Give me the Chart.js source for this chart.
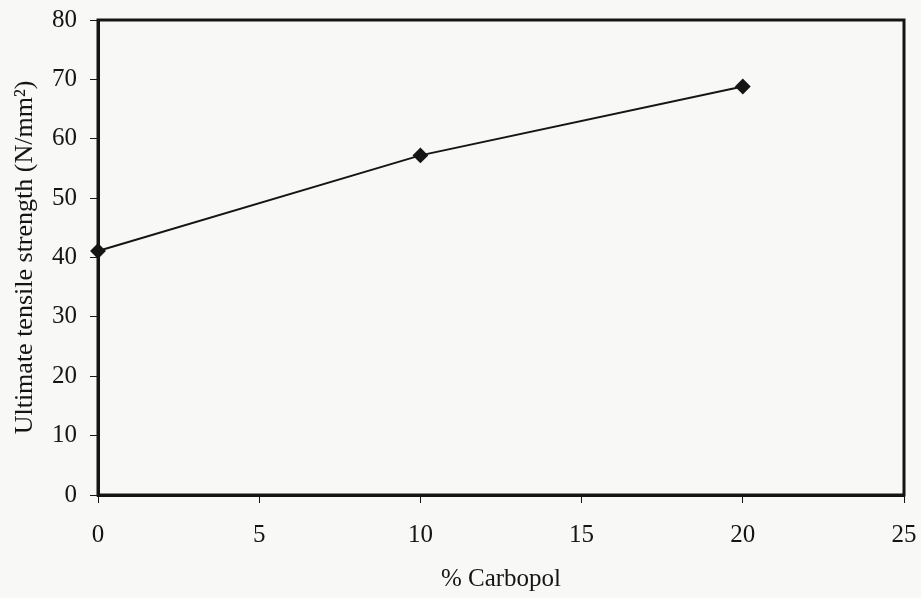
<!DOCTYPE html>
<html>
<head>
<meta charset="utf-8">
<script src="https://cdn.jsdelivr.net/npm/chart.js@4/dist/chart.umd.min.js"></script>
<style>
  html, body { margin: 0; padding: 0; background: #f8f8f6; }
  #wrap { width: 921px; height: 598px; }
</style>
</head>
<body>
<div id="wrap"><canvas id="c" width="921" height="598"></canvas></div>
<script>
// Carbopol content (%) and measured ultimate tensile strength (N/mm²)
const carbopolPercent = [0, 10, 20];
const tensileStrength = [41.1, 57.2, 68.8];
const xTickValues = [0, 5, 10, 15, 20, 25];
const yTickValues = [0, 10, 20, 30, 40, 50, 60, 70, 80];
const xTitle = '% Carbopol';
const yTitle = 'Ultimate tensile strength (N/mm\u00B2)';

const serif = "'Liberation Serif', 'Times New Roman', serif";
const ink = '#151515';

// Closed frame round the plotting area
const frame = {
  id: 'frame',
  afterDatasetsDraw(chart) {
    const { ctx, chartArea: a } = chart;
    ctx.save();
    ctx.strokeStyle = ink;
    ctx.lineWidth = 3;
    ctx.strokeRect(a.left, a.top, a.right - a.left, a.bottom - a.top);
    ctx.restore();
  }
};

const points = carbopolPercent.map((x, i) => ({ x, y: tensileStrength[i] }));

new Chart(document.getElementById('c'), {
  type: 'scatter',
  data: {
    datasets: [{
      data: points,
      showLine: true,
      borderColor: ink,
      borderWidth: 2,
      backgroundColor: ink,
      pointStyle: 'rectRot',
      pointRadius: 6.5,
      pointHoverRadius: 6.5,
      clip: false
    }]
  },
  options: {
    responsive: false,
    animation: false,
    layout: { padding: { left: 0, right: 17, top: 20, bottom: 0 } },
    plugins: { legend: { display: false }, tooltip: { enabled: false } },
    scales: {
      x: {
        type: 'linear',
        min: 0, max: 25,
        afterBuildTicks(scale) { scale.ticks = xTickValues.map(v => ({ value: v })); },
        afterFit(scale) {
          scale.height = 103;
          scale.paddingLeft = 0; scale.paddingRight = 0;
        },
        grid: { drawOnChartArea: false, drawTicks: true, tickLength: 8, color: ink, lineWidth: 1 },
        border: { display: true, color: ink, width: 3 },
        ticks: { color: ink, font: { family: serif, size: 25 }, padding: 17, maxRotation: 0 },
        title: { display: true, text: xTitle, color: ink, font: { family: serif, size: 25 }, padding: { top: 8 } }
      },
      y: {
        type: 'linear',
        min: 0, max: 80,
        afterBuildTicks(scale) { scale.ticks = yTickValues.map(v => ({ value: v })); },
        afterFit(scale) {
          scale.width = 98;
          scale.paddingTop = 0; scale.paddingBottom = 0;
        },
        grid: { drawOnChartArea: false, drawTicks: true, tickLength: 8, color: ink, lineWidth: 1 },
        border: { display: true, color: ink, width: 3 },
        ticks: { color: ink, font: { family: serif, size: 25 }, padding: 13 },
        title: { display: true, text: yTitle, color: ink, font: { family: serif, size: 26 }, padding: { top: 10, bottom: 0 } }
      }
    }
  },
  plugins: [frame]
});
</script>
</body>
</html>
